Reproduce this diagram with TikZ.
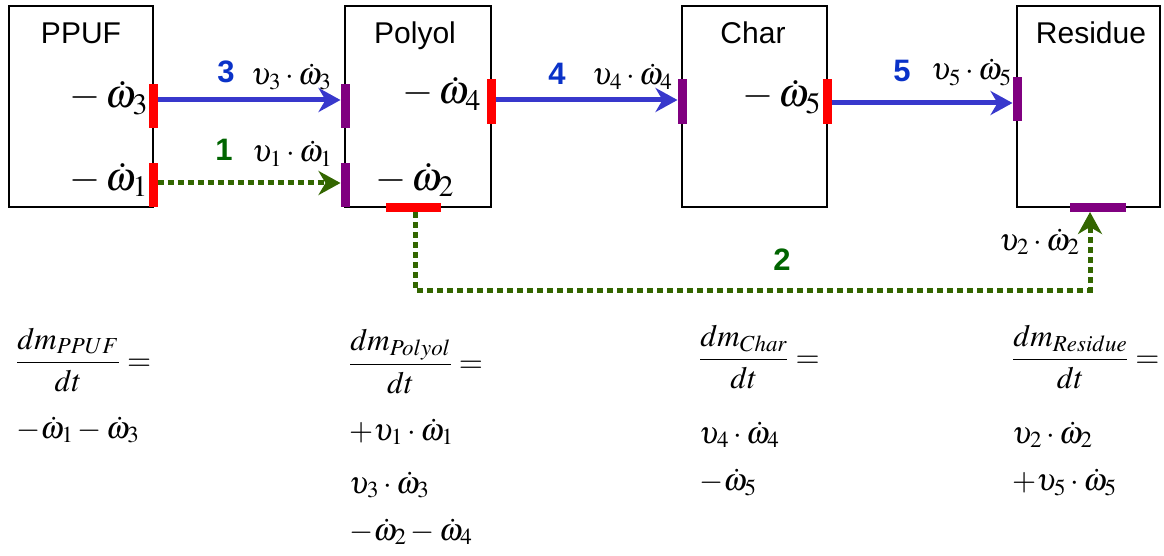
\documentclass[tikz,border=0pt]{standalone}
\usepackage{mathptmx}
\usepackage[no-math]{fontspec}
\newfontfamily\arial{Liberation Sans}
\usetikzlibrary{arrows.meta,calc}
\definecolor{flowblue}{RGB}{56,56,204}
\definecolor{numblue}{RGB}{10,50,200}
\definecolor{flowgreen}{RGB}{51,102,0}
\definecolor{numgreen}{RGB}{0,100,0}
\definecolor{barred}{RGB}{255,0,0}
\definecolor{barpurple}{RGB}{128,0,128}
\begin{document}
\begin{tikzpicture}[x=1pt,y=-1pt,
  box/.style={draw=black,line width=1.3pt,inner sep=0pt,outer sep=0pt,minimum height=201pt},
  vbar/.style={fill=#1,inner sep=0pt,outer sep=0pt,minimum width=9pt,minimum height=45pt},
  hbar/.style={fill=#1,inner sep=0pt,outer sep=0pt,minimum width=56pt,minimum height=9pt},
  title/.style={font=\arial\fontsize{30}{34}\selectfont,anchor=base,inner sep=0pt},
  num/.style={font=\arial\bfseries\fontsize{31}{34}\selectfont,text=#1,inner sep=0pt},
  biglab/.style={font=\fontsize{40}{44}\selectfont,anchor=base east,inner sep=0pt},
  flowlab/.style={font=\fontsize{31}{34}\selectfont,anchor=base west,inner sep=0pt},
  eq/.style={font=\fontsize{31}{36}\selectfont,anchor=base west,inner sep=0pt},
  blueflow/.style={draw=flowblue,line width=5pt,-{Stealth[length=22pt,width=24pt,inset=7pt]}},
  greenflow/.style={draw=flowgreen,line width=5pt,dash pattern=on 6pt off 4pt,-{Stealth[length=22pt,width=24pt,inset=7pt]}}]
\useasboundingbox (0,0) rectangle (1164,556);
% boxes
\node[box,minimum width=144pt] (ppuf) at (81,106.5) {};
\node[box,minimum width=146pt] (polyol) at (418,106.5) {};
\node[box,minimum width=145pt] (char) at (754.5,106.5) {};
\node[box,minimum width=143pt] (residue) at (1088.5,106.5) {};
% titles
\node[title] (tppuf) at (81,44) {PPUF};
\node[title] (tpolyol) at (415,44) {Polyol};
\node[title] (tchar) at (753,44) {Char};
\node[title] (tresidue) at (1091,44) {Residue};
% bars
\node[vbar=barred,minimum height=44pt] (ppuf3) at (153,106) {};
\node[vbar=barred,minimum height=44pt] (ppuf1) at (153,185) {};
\node[vbar=barpurple,minimum height=44pt] (pol3) at (345,106) {};
\node[vbar=barpurple,minimum height=44pt] (pol1) at (345,185) {};
\node[vbar=barred] (pol4) at (491,101.5) {};
\node[hbar=barred,minimum width=55pt] (pol2) at (413,207.5) {};
\node[vbar=barpurple] (char4) at (682,101.5) {};
\node[vbar=barred] (char5) at (827,101.5) {};
\node[vbar=barpurple,minimum height=44pt] (res5) at (1017,99) {};
\node[hbar=barpurple] (res2) at (1098,207.5) {};
% connector levels
\coordinate (y3) at (0,100);
\coordinate (y1) at (0,183);
\coordinate (y4) at (0,100);
\coordinate (y5) at (0,103);
\coordinate (c2a) at (415,290);
\coordinate (c2b) at (1090,290);
% connectors
\draw[blueflow] (ppuf3.east |- y3) -- (pol3.west |- y3);
\draw[greenflow] (ppuf1.east |- y1) -- (pol1.west |- y1);
\draw[blueflow] (pol4.east |- y4) -- (char4.west |- y4);
\draw[blueflow] (char5.east |- y5) -- (res5.west |- y5);
\draw[greenflow] (pol2.south -| c2a) -- (c2a) -- (c2b) -- (res2.south -| c2b);
% numbers
\node[num=numblue] (n3) at (226,72) {3};
\node[num=numgreen] (n1) at (224,150) {1};
\node[num=numblue] (n4) at (557,74) {4};
\node[num=numblue] (n5) at (902,71) {5};
\node[num=numgreen] (n2) at (782,260) {2};
% box labels
\node[biglab] (lw3) at (148,108) {$-\,\dot\omega_3$};
\node[biglab] (lw1) at (148,190) {$-\,\dot\omega_1$};
\node[biglab] (lw4) at (481,104) {$-\,\dot\omega_4$};
\node[biglab] (lw2) at (454,190) {$-\,\dot\omega_2$};
\node[biglab] (lw5) at (821,107) {$-\,\dot\omega_5$};
% flow labels
\node[flowlab] (lv3) at (251,85) {$\upsilon_3\cdot\dot\omega_3$};
\node[flowlab] (lv1) at (252,162) {$\upsilon_1\cdot\dot\omega_1$};
\node[flowlab] (lv4) at (592,85) {$\upsilon_4\cdot\dot\omega_4$};
\node[flowlab] (lv5) at (931,80) {$\upsilon_5\cdot\dot\omega_5$};
\node[flowlab] (lv2) at (999,250) {$\upsilon_2\cdot\dot\omega_2$};
% equations
\node[eq] (ea0) at (16,370) {$\displaystyle\frac{dm_{PPUF}}{dt}=$};
\node[eq] (ea1) at (16,438) {$-\dot\omega_1-\dot\omega_3$};
\node[eq] (eb0) at (349,372) {$\displaystyle\frac{dm_{Polyol}}{dt}=$};
\node[eq] (eb1) at (349,440) {$+\upsilon_1\cdot\dot\omega_1$};
\node[eq] (eb2) at (349,493) {$\upsilon_3\cdot\dot\omega_3$};
\node[eq] (eb3) at (349,540) {$-\dot\omega_2-\dot\omega_4$};
\node[eq] (ec0) at (699,367) {$\displaystyle\frac{dm_{Char}}{dt}=$};
\node[eq] (ec1) at (699,443) {$\upsilon_4\cdot\dot\omega_4$};
\node[eq] (ec2) at (699,490) {$-\dot\omega_5$};
\node[eq] (ed0) at (1012,367) {$\displaystyle\frac{dm_{Residue}}{dt}=$};
\node[eq] (ed1) at (1012,443) {$\upsilon_2\cdot\dot\omega_2$};
\node[eq] (ed2) at (1012,490) {$+\upsilon_5\cdot\dot\omega_5$};
\end{tikzpicture}
\end{document}
